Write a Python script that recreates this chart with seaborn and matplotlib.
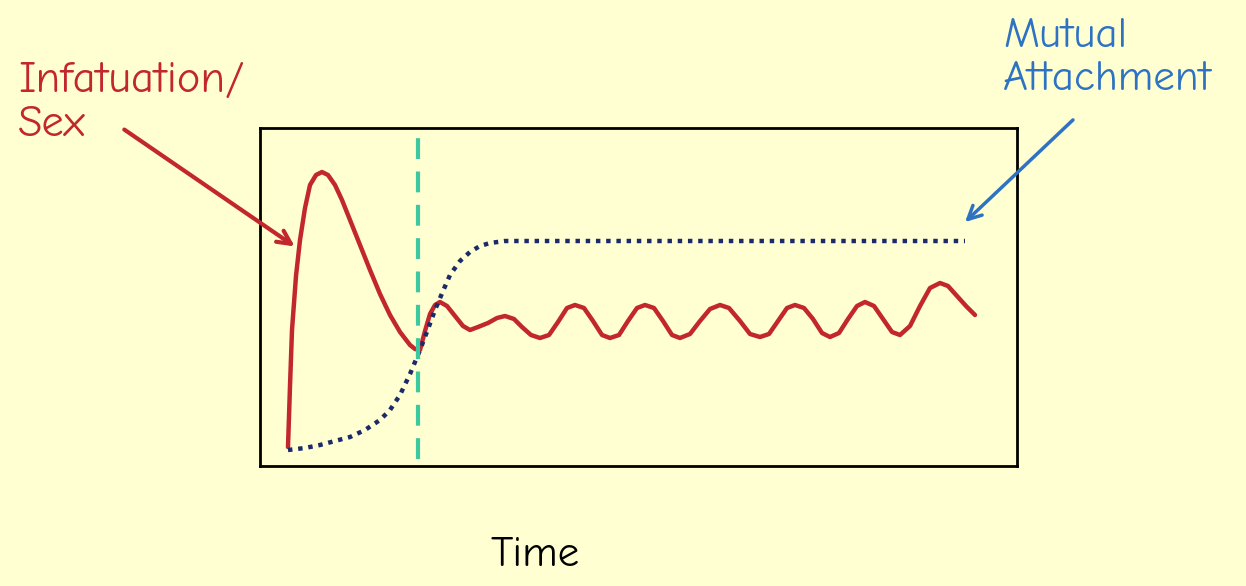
import matplotlib
matplotlib.use("Agg")
import matplotlib.pyplot as plt
import seaborn as sns
import pandas as pd

sns.set_theme(style="white")
plt.rcParams['font.family'] = ['Comic Neue', 'Open Sans', 'DejaVu Sans']

# Time (0..757) and level (0..338)
red_t = [28, 30, 32, 36, 40, 45, 50, 56, 62, 68, 75, 82, 90, 100, 110, 120, 130, 140, 150, 155, 160,
         165, 170, 175, 180, 187, 195, 203, 210, 218, 228, 237, 245, 254, 262, 271, 280, 289, 298, 307,
         315, 324, 333, 342, 350, 359, 368, 377, 385, 394, 403, 412, 420, 430, 440, 450, 460, 469, 480,
         490, 500, 509, 518, 527, 535, 544, 553, 562, 570, 579, 588, 597, 605, 614, 623, 632, 640, 650,
         660, 670, 680, 688, 697, 706, 715]
red_v = [19, 80, 136, 190, 226, 258, 281, 291, 294, 291, 281, 266, 246, 221, 196, 172, 151, 134, 121, 117, 116,
         135, 152, 161, 164, 160, 150, 140, 136, 139, 143, 148, 150, 147, 139, 131, 128, 131, 144, 158,
         161, 158, 145, 131, 128, 131, 145, 158, 161, 158, 145, 131, 128, 132, 145, 157, 161, 158, 145,
         132, 129, 132, 145, 158, 161, 158, 147, 133, 129, 133, 147, 160, 164, 160, 147, 134, 131, 140,
         160, 178, 183, 180, 170, 160, 151]
blue_t = [28, 45, 60, 75, 90, 105, 120, 130, 140, 150, 160, 168, 175, 183, 190, 200, 210, 220, 230, 245, 260, 705]
blue_v = [16, 18, 21, 25, 29, 36, 46, 56, 71, 92, 116, 137, 156, 175, 191, 205, 214, 220, 223, 225, 225, 225]
phase_t = 158

W, H = 1246, 586
fig = plt.figure(figsize=(W/100, H/100), dpi=100)
fig.patch.set_facecolor('#FFFFD2')
ax = fig.add_axes([260/W, (H-466)/H, 757/W, 338/H])
ax.set_facecolor('#FFFFD2')

sns.lineplot(data=pd.DataFrame({'t': red_t, 'v': red_v}), x='t', y='v', sort=False,
             ax=ax, color='#C1272D', lw=3.2, solid_joinstyle='round', solid_capstyle='round')
sns.lineplot(data=pd.DataFrame({'t': blue_t, 'v': blue_v}), x='t', y='v', sort=False,
             ax=ax, color='#1B2A6B', lw=3.2, linestyle=(0, (1, 1.3)))
ax.axvline(phase_t, ymin=0.02, ymax=1, color='#3DC9A0', lw=3, linestyle=(0, (5, 3)))

ax.set_xlim(0, 757)
ax.set_ylim(0, 338)
ax.set_xticks([]); ax.set_yticks([])
ax.set_xlabel(''); ax.set_ylabel('')
for s in ax.spines.values():
    s.set_color('black'); s.set_linewidth(2)

fig.text(18/W, (H-62)/H, 'Infatuation/\nSex', color='#C1272D', fontsize=32,
         va='top', ha='left', linespacing=1.2)
fig.text(1003/W, (H-18)/H, 'Mutual\nAttachment', color='#2E72C4', fontsize=31,
         va='top', ha='left', linespacing=1.2)
fig.text(535/W, (H-555)/H, 'Time', color='black', fontsize=31, ha='center', va='center')

ax.annotate('', xy=(297, H-248), xytext=(122, H-128), xycoords='figure pixels',
            textcoords='figure pixels',
            arrowprops=dict(arrowstyle='->,head_length=0.8,head_width=0.4', color='#C1272D', lw=3))
ax.annotate('', xy=(963, H-224), xytext=(1075, H-118), xycoords='figure pixels',
            textcoords='figure pixels',
            arrowprops=dict(arrowstyle='->,head_length=0.8,head_width=0.4', color='#2E72C4', lw=2.5))

fig.savefig('out.png', dpi=100, facecolor=fig.get_facecolor())
